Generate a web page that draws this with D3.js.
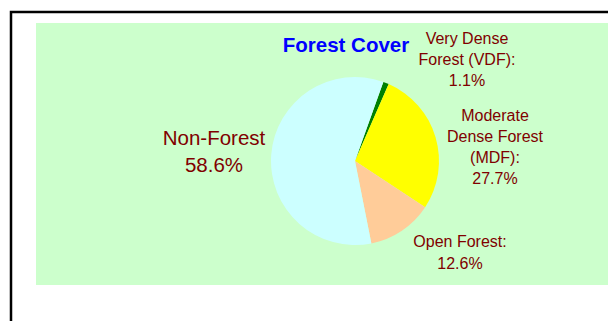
<!DOCTYPE html>
<html>
<head>
<meta charset="utf-8">
<script src="https://cdn.jsdelivr.net/npm/d3@7"></script>
<style>
  html, body { margin: 0; padding: 0; background: #fff; }
  svg { display: block; }
  text { font-family: "Liberation Sans", Arial, sans-serif; }
</style>
</head>
<body>
<svg id="chart" width="608" height="321"></svg>
<script>
// Forest cover composition (percent of area)
const categories = ["Very Dense Forest (VDF)", "Moderate Dense Forest (MDF)", "Open Forest", "Non-Forest"];
const values = [1.1, 27.7, 12.6, 58.6];
const colors = ["#008000", "#FFFF00", "#FFCC99", "#CCFFFF"];
// Label lines per slice (value line appended from values)
const labelLines = [
  ["Very Dense", "Forest (VDF):"],
  ["Moderate", "Dense Forest", "(MDF):"],
  ["Open Forest:"],
  ["Non-Forest"]
];
const title = "Forest Cover";

const W = 608, H = 321;
const svg = d3.select("#chart");

// outer frame
svg.append("rect")
  .attr("x", 11).attr("y", 12)
  .attr("width", W + 20).attr("height", H + 20)
  .attr("fill", "#fff").attr("stroke", "#000").attr("stroke-width", 2.5);

// plot area
svg.append("rect")
  .attr("x", 36).attr("y", 23)
  .attr("width", W - 36).attr("height", 262)
  .attr("fill", "#CCFFCC");

const cx = 355, cy = 161, r = 84;
const startDeg = 19.7;
const pie = d3.pie().sort(null)
  .startAngle(startDeg * Math.PI / 180)
  .endAngle((startDeg + 360) * Math.PI / 180);
const arcs = pie(values);
const arc = d3.arc().innerRadius(0).outerRadius(r);

const g = svg.append("g").attr("transform", `translate(${cx},${cy})`);
g.selectAll("path").data(arcs).join("path")
  .attr("d", arc)
  .attr("fill", (d, i) => colors[i]);

// title
svg.append("text")
  .attr("x", 346).attr("y", 52)
  .attr("text-anchor", "middle")
  .attr("font-size", 20.5).attr("font-weight", "bold")
  .attr("fill", "#0000FF")
  .text(title);

// slice labels: centre x, first baseline, font size, line height
const labelPos = [
  { x: 467, y: 44, size: 16, lh: 21 },
  { x: 495, y: 121, size: 16, lh: 21 },
  { x: 460, y: 247, size: 16, lh: 21.5 },
  { x: 214, y: 145, size: 20.5, lh: 27.3 }
];
const fmt = v => v.toFixed(1) + "%";
labelLines.forEach((lines, i) => {
  const p = labelPos[i];
  const t = svg.append("text")
    .attr("text-anchor", "middle")
    .attr("font-size", p.size)
    .attr("fill", "#800000");
  lines.concat([fmt(values[i])]).forEach((s, k) => {
    t.append("tspan").attr("x", p.x).attr("y", p.y + k * p.lh).text(s);
  });
});
</script>
</body>
</html>
